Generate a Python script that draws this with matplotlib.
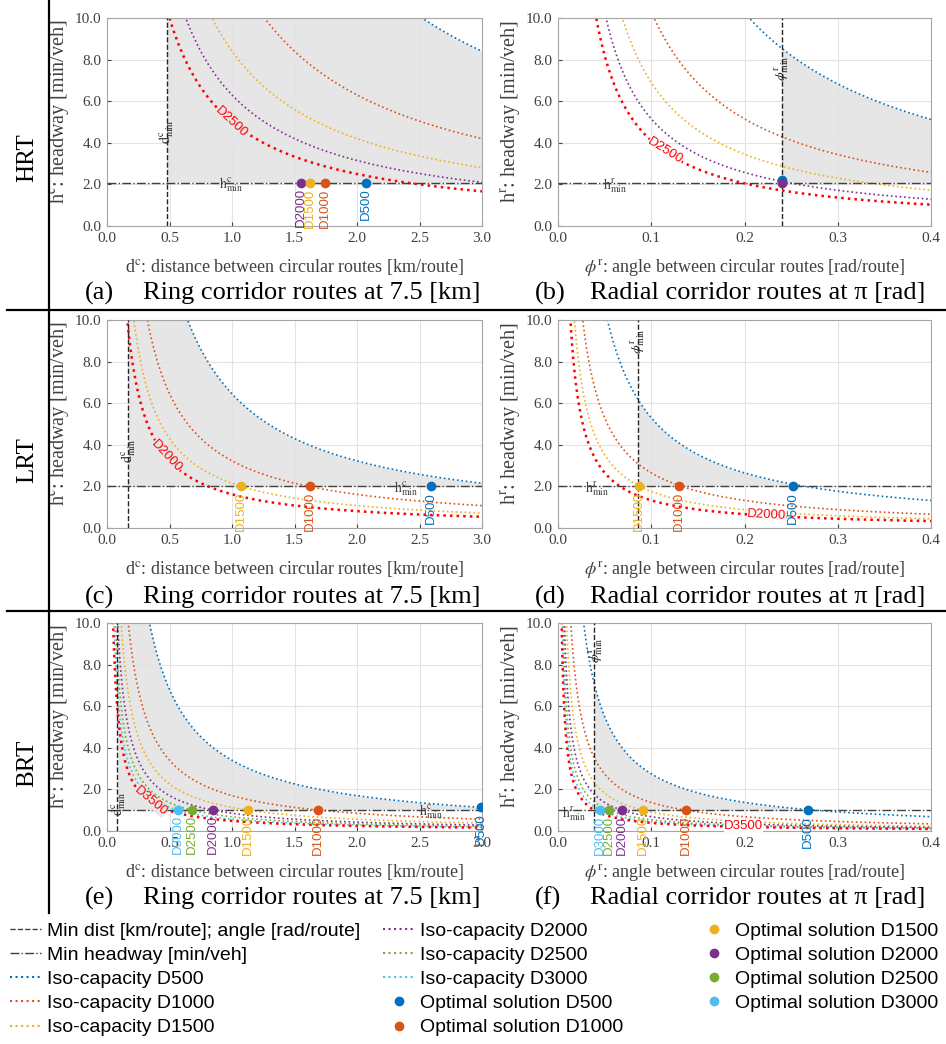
import numpy as np
import matplotlib.pyplot as plt
from matplotlib.lines import Line2D

plt.rcParams['font.family'] = ['Liberation Serif', 'DejaVu Serif']
plt.rcParams['mathtext.fontset'] = 'stix'

W, H = 946, 1044

# colours of the demand levels (MATLAB default order)
dem_names = ['D500', 'D1000', 'D1500', 'D2000', 'D2500', 'D3000']
dem_colors = ['#0072BD', '#D95319', '#EDB120', '#7E2F8E', '#77AC30', '#4DBEEE']
bound_color = '#FF0000'

# iso-capacity curves: h = k / d, k

# (a) HRT ring
a_iso = ['D500', 'D1000', 'D1500', 'D2000']
a_k = [25.2, 12.6, 8.4, 6.3]
a_bound, a_bound_k = 'D2500', 5.0
a_xmin, a_hmin = 0.48, 2.08
a_opt = ['D2000', 'D1500', 'D1000', 'D500']
a_opt_x = [1.55, 1.62, 1.74, 2.07]
a_opt_y = [2.08, 2.08, 2.08, 2.08]

# (b) HRT radial
b_iso = ['D500', 'D1000', 'D1500', 'D2000']
b_k = [2.05, 1.03, 0.69, 0.515]
b_bound, b_bound_k = 'D2500', 0.41
b_xmin, b_hmin = 0.24, 2.08
b_opt = ['D1000', 'D1500', 'D500', 'D2000']
b_opt_x = [0.24, 0.24, 0.24, 0.24]
b_opt_y = [2.1, 2.1, 2.2, 2.05]

# (c) LRT ring
c_iso = ['D500', 'D1000', 'D1500']
c_k = [6.45, 3.23, 2.15]
c_bound, c_bound_k = 'D2000', 1.62
c_xmin, c_hmin = 0.168, 2.0
c_opt = ['D1500', 'D1000', 'D500']
c_opt_x = [1.07, 1.62, 2.59]
c_opt_y = [2.0, 2.0, 2.0]

# (d) LRT radial
d_iso = ['D500', 'D1000', 'D1500']
d_k = [0.53, 0.265, 0.176]
d_bound, d_bound_k = 'D2000', 0.133
d_xmin, d_hmin = 0.086, 2.0
d_opt = ['D1500', 'D1000', 'D500']
d_opt_x = [0.087, 0.13, 0.252]
d_opt_y = [2.0, 2.0, 2.0]

# (e) BRT ring
e_iso = ['D500', 'D1000', 'D1500', 'D2000', 'D2500', 'D3000']
e_k = [3.4, 1.7, 1.13, 0.85, 0.68, 0.567]
e_bound, e_bound_k = 'D3500', 0.486
e_xmin, e_hmin = 0.083, 1.02
e_opt = ['D3000', 'D2500', 'D2000', 'D1500', 'D1000', 'D500']
e_opt_x = [0.565, 0.68, 0.845, 1.13, 1.69, 2.99]
e_opt_y = [1.02, 1.02, 1.02, 1.02, 1.02, 1.13]

# (f) BRT radial
f_iso = ['D500', 'D1000', 'D1500', 'D2000', 'D2500', 'D3000']
f_k = [0.275, 0.137, 0.091, 0.0686, 0.0543, 0.0454]
f_bound, f_bound_k = 'D3500', 0.039
f_xmin, f_hmin = 0.039, 1.0
f_opt = ['D3000', 'D2500', 'D2000', 'D1500', 'D1000', 'D500']
f_opt_x = [0.0454, 0.0543, 0.0686, 0.091, 0.137, 0.268]
f_opt_y = [1.0, 1.0, 1.0, 1.0, 1.0, 1.0]

captions = ['Ring corridor routes at 7.5 [km]', 'Radial corridor routes at \u03c0 [rad]']
letters = ['(a)', '(b)', '(c)', '(d)', '(e)', '(f)']
row_names = ['HRT', 'LRT', 'BRT']


def col(name):
    return dem_colors[dem_names.index(name)]


fig = plt.figure(figsize=(W / 100, H / 100), dpi=100)

ax_left = [107, 558]
ax_w = [375, 373]
ax_top = [18, 320, 623]
ax_h = 208


def draw(ax, ring, iso, ks, bname, bk, xmin, hmin, opt, ox, oy, opt_lab,
         blab, hlab, vlab, lab_bg):
    xmax = 3.0 if ring else 0.4
    x = np.linspace(xmax / 3000, xmax, 1500)
    # feasible area
    xs = np.linspace(xmin, xmax, 600)
    top = np.minimum(ks[0] / xs, 10)
    ax.fill_between(xs, hmin, top, where=top >= hmin, interpolate=True,
                    color='#E6E6E6', lw=0, zorder=0.2)
    for n, k in zip(iso, ks):
        ax.plot(x, k / x, ls=':', lw=1.2, color=col(n), zorder=2)
    ax.plot(x, bk / x, ls=':', lw=1.8, color=bound_color, zorder=2)
    ax.axvline(xmin, ls='--', lw=1, color='#262626', zorder=3)
    ax.axhline(hmin, ls='-.', lw=1, color='#404040', zorder=3)
    for n, xx, yy in zip(opt, ox, oy):
        ax.plot(xx, yy, 'o', ms=6, color=col(n), zorder=5)
        if opt_lab:
            ax.annotate(n, (xx, yy), xytext=(0, -4), textcoords='offset points',
                        rotation=90, ha='center', va='top', color=col(n),
                        fontsize=9.5, family='Liberation Sans', zorder=6)
    # inline label on the bound curve
    ax.text(blab[0], blab[1], bname, rotation=blab[2], ha='center', va='center',
            rotation_mode='anchor', color=bound_color, fontsize=9.5,
            family='Liberation Sans', zorder=4,
            bbox=dict(boxstyle='square,pad=0', fc=lab_bg, ec='none'))
    sup = 'c' if ring else 'r'
    ax.text(hlab[0], hlab[1], r'$\mathrm{h}^{\mathrm{%s}}_{\mathrm{min}}$' % sup,
            ha='center', va='center', fontsize=10, color='#404040', zorder=4)
    vsym = r'\mathrm{d}' if ring else r'\phi'
    ax.text(vlab[0], vlab[1], r'$%s^{\mathrm{%s}}_{\mathrm{min}}$' % (vsym, sup),
            rotation=90, ha='center', va='center', fontsize=10,
            color='#262626', zorder=4)

    ax.set_xlim(0, xmax)
    ax.set_ylim(0, 10)
    if ring:
        ax.set_xticks(np.arange(0, 3.01, 0.5))
    else:
        ax.set_xticks(np.arange(0, 0.401, 0.1))
    ax.set_yticks(np.arange(0, 10.01, 2))
    ax.xaxis.set_major_formatter('{x:.1f}')
    ax.yaxis.set_major_formatter('{x:.1f}')
    ax.grid(True, color='#E3E3E3', lw=0.8)
    ax.set_axisbelow(True)
    ax.tick_params(direction='in', length=3, labelsize=11, colors='#404040',
                   pad=4)
    for s in ax.spines.values():
        s.set_color('#A6A6A6')
        s.set_linewidth(0.8)
    if ring:
        ax.set_xlabel(r'd$^{\mathrm{c}}$: distance between circular routes [km/route]',
                      fontsize=13, color='#404040')
        ax.set_ylabel(r'h$^{\mathrm{c}}$: headway [min/veh]', fontsize=14.5,
                      color='#404040')
    else:
        ax.set_xlabel(r'$\phi^{\mathrm{r}}$: angle between circular routes [rad/route]',
                      fontsize=13, color='#404040')
        ax.set_ylabel(r'h$^{\mathrm{r}}$: headway [min/veh]', fontsize=14.5,
                      color='#404040')
    ax.xaxis.set_label_coords(0.5, -0.15)
    ax.yaxis.set_label_coords(-0.093, 0.55)


panels = [
    (True, a_iso, a_k, a_bound, a_bound_k, a_xmin, a_hmin, a_opt, a_opt_x, a_opt_y, True,
     (0.99, 5.0, -43), (0.99, 1.97), (0.48, 4.5), '#E6E6E6'),
    (False, b_iso, b_k, b_bound, b_bound_k, b_xmin, b_hmin, b_opt, b_opt_x, b_opt_y, False,
     (0.115, 3.6, -32), (0.061, 1.95), (0.24, 7.6), 'white'),
    (True, c_iso, c_k, c_bound, c_bound_k, c_xmin, c_hmin, c_opt, c_opt_x, c_opt_y, True,
     (0.475, 3.45, -47), (2.39, 1.89), (0.175, 3.7), '#E6E6E6'),
    (False, d_iso, d_k, d_bound, d_bound_k, d_xmin, d_hmin, d_opt, d_opt_x, d_opt_y, True,
     (0.224, 0.62, -3), (0.042, 1.89), (0.086, 9.0), 'white'),
    (True, e_iso, e_k, e_bound, e_bound_k, e_xmin, e_hmin, e_opt, e_opt_x, e_opt_y, True,
     (0.347, 1.45, -40), (2.59, 0.94), (0.09, 1.3), '#E6E6E6'),
    (False, f_iso, f_k, f_bound, f_bound_k, f_xmin, f_hmin, f_opt, f_opt_x, f_opt_y, True,
     (0.199, 0.22, 0), (0.017, 0.84), (0.041, 8.7), 'white'),
]

cap_y = [293, 597, 898]
for i, p in enumerate(panels):
    r, c = divmod(i, 2)
    ax = fig.add_axes([ax_left[c] / W, 1 - (ax_top[r] + ax_h) / H,
                       ax_w[c] / W, ax_h / H])
    draw(ax, *p)
    lx = [85, 535][c]
    tx = [143, 590][c]
    fig.text(lx / W, 1 - cap_y[r] / H, letters[i], fontsize=19, ha='left', va='center')
    fig.text(tx / W, 1 - cap_y[r] / H, captions[c], fontsize=19, ha='left', va='center')

for r, name in enumerate(row_names):
    fig.text(27 / W, 1 - (ax_top[r] + 140) / H, name, rotation=90, fontsize=18,
             ha='center', va='center')

# separators
fig.add_artist(Line2D([49 / W, 49 / W], [1, 1 - 913 / H], transform=fig.transFigure,
                      color='k', lw=1.6))
for yy in [310, 611]:
    fig.add_artist(Line2D([7 / W, 1], [1 - yy / H, 1 - yy / H],
                          transform=fig.transFigure, color='k', lw=1.6))

# legend
iso_lab = ['Iso-capacity ' + n for n in dem_names]
opt_lab = ['Optimal solution ' + n for n in dem_names]
h_all = [Line2D([], [], ls='--', color='#404040', lw=1),
         Line2D([], [], ls='-.', color='#404040', lw=1)]
h_all += [Line2D([], [], ls=':', color=cc, lw=1.5) for cc in dem_colors]
h_all += [Line2D([], [], ls='none', marker='o', ms=6, color=cc) for cc in dem_colors]
l_all = ['Min dist [km/route]; angle [rad/route]', 'Min headway [min/veh]'] + iso_lab + opt_lab

leg_font = {'family': ['Liberation Sans Narrow', 'Liberation Sans'], 'size': 14}
groups = [(0, 5, 10), (5, 10, 383), (10, 14, 698)]
for a0, a1, xpos in groups:
    fig.legend(h_all[a0:a1], l_all[a0:a1], loc='upper left',
               bbox_to_anchor=(xpos / W, 1 - 922 / H), frameon=False,
               prop=leg_font, handlelength=1.6, handletextpad=0.3,
               labelspacing=0.34, borderpad=0, borderaxespad=0)

fig.savefig('out.png', dpi=100)
